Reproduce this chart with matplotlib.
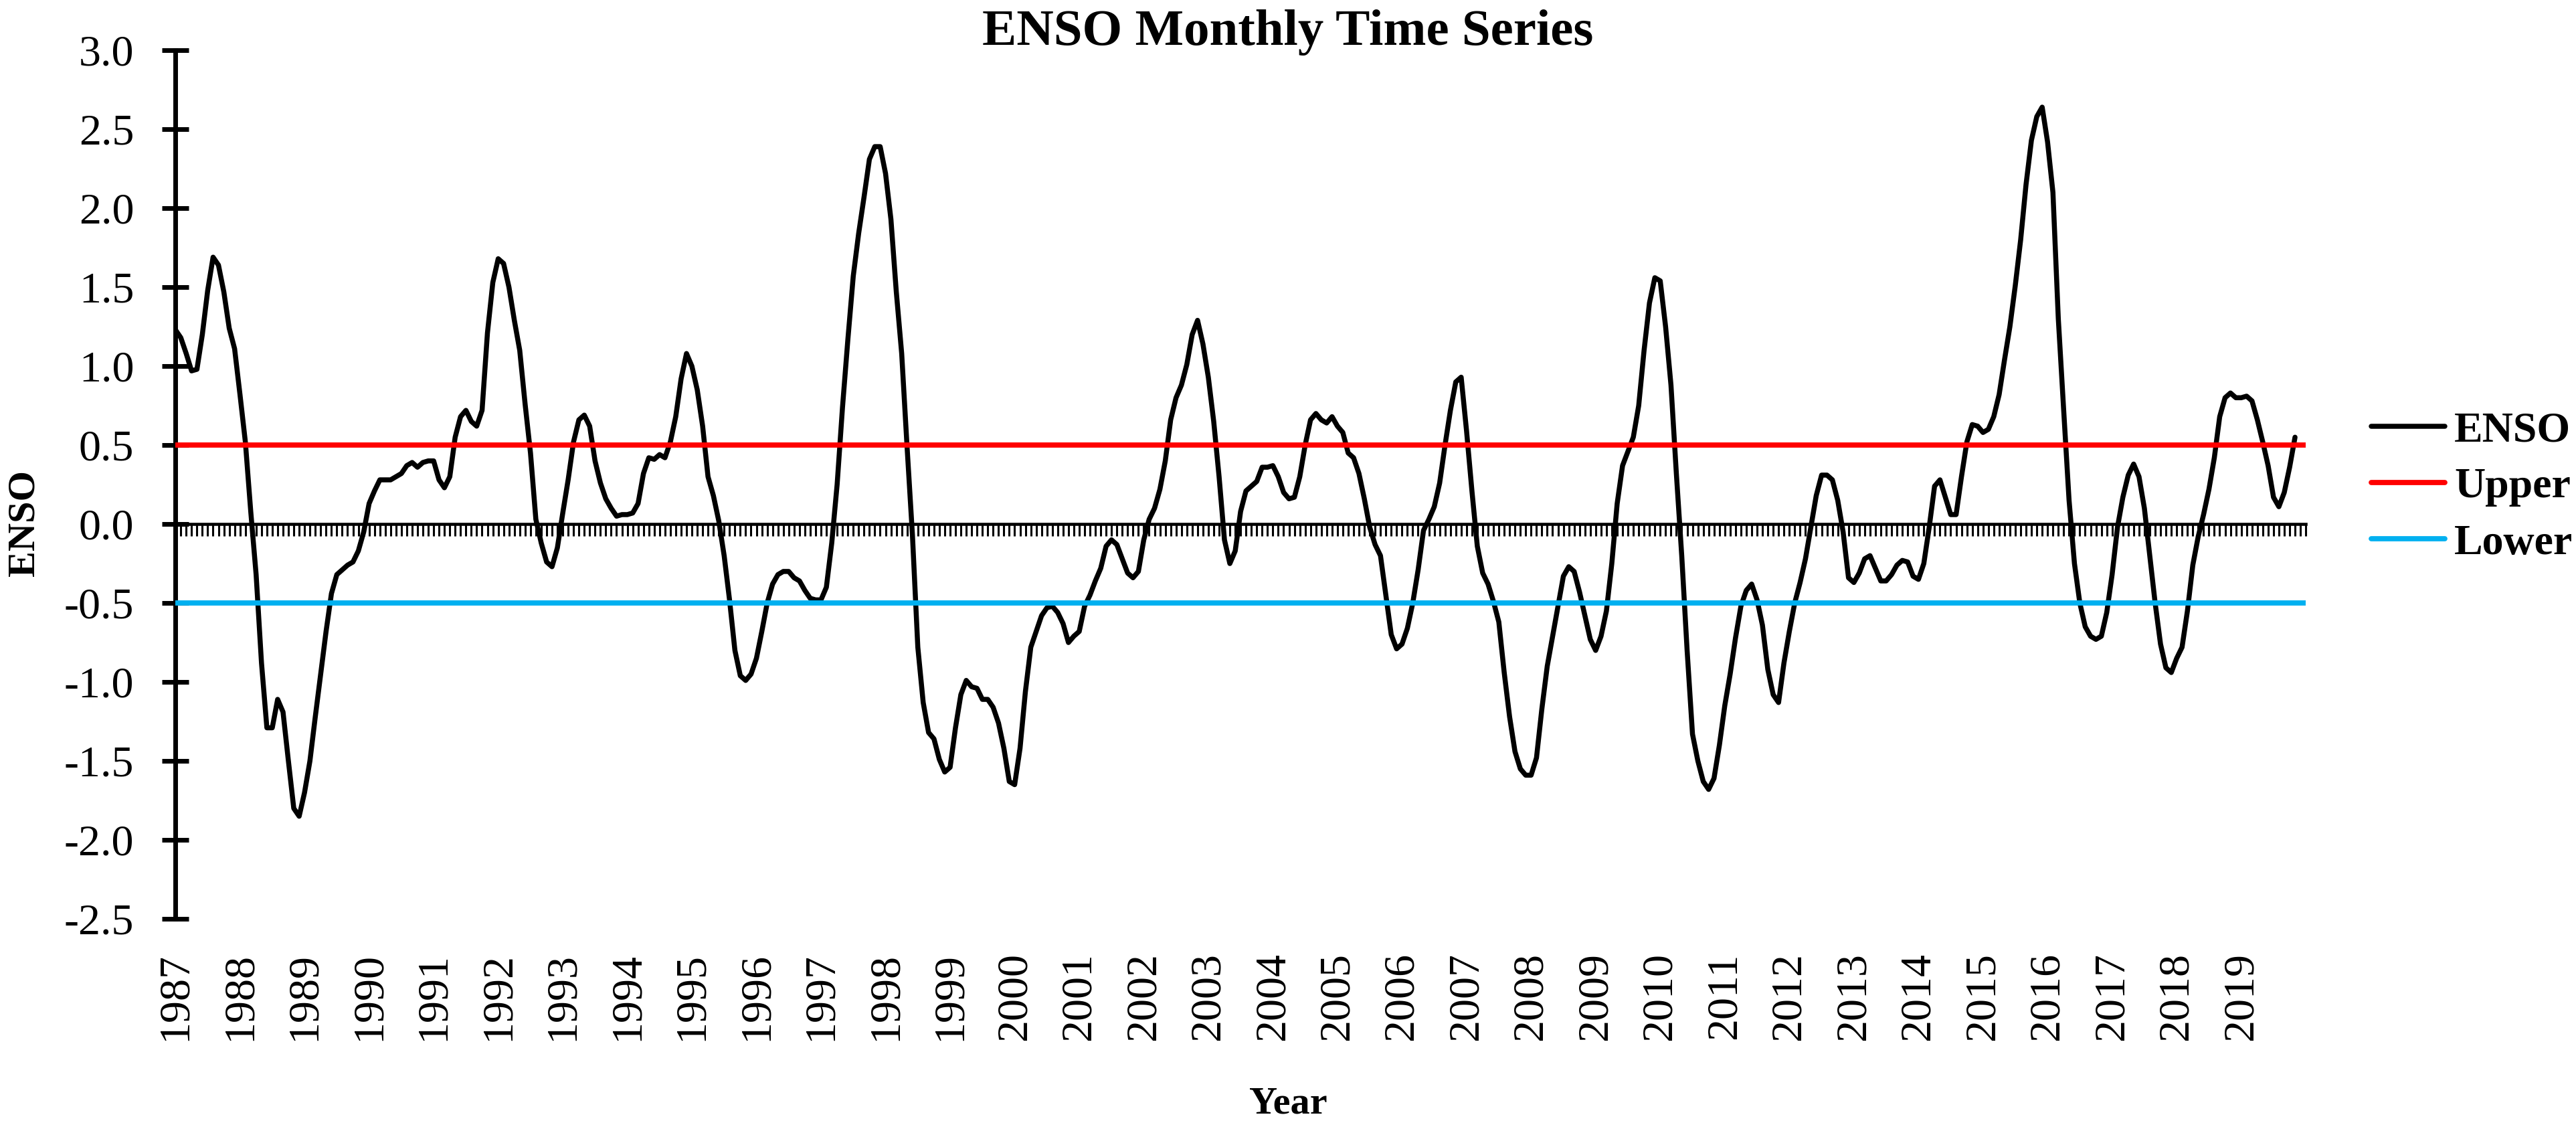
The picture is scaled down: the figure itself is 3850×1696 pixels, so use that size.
import matplotlib.pyplot as plt
import numpy as np

plt.rcParams['font.family'] = ['Liberation Serif', 'DejaVu Serif']

# monthly ENSO values (Jan 1987 .. Nov 2019)
enso_1987 = [1.23, 1.18, 1.08, 0.97, 0.98, 1.20, 1.48, 1.69, 1.64, 1.47, 1.24, 1.11]
enso_1988 = [0.82, 0.52, 0.08, -0.32, -0.88, -1.29, -1.29, -1.11, -1.19, -1.50, -1.80, -1.85]
enso_1989 = [-1.70, -1.50, -1.22, -0.95, -0.68, -0.44, -0.32, -0.29, -0.26, -0.24, -0.17, -0.05]
enso_1990 = [0.13, 0.21, 0.28, 0.28, 0.28, 0.30, 0.32, 0.37, 0.39, 0.36, 0.39, 0.40]
enso_1991 = [0.40, 0.28, 0.23, 0.30, 0.55, 0.68, 0.72, 0.65, 0.62, 0.72, 1.21, 1.53]
enso_1992 = [1.68, 1.65, 1.50, 1.29, 1.10, 0.76, 0.45, 0.03, -0.12, -0.24, -0.27, -0.15]
enso_1993 = [0.07, 0.28, 0.52, 0.66, 0.69, 0.62, 0.40, 0.26, 0.16, 0.10, 0.05, 0.06]
enso_1994 = [0.06, 0.07, 0.13, 0.32, 0.42, 0.41, 0.44, 0.42, 0.52, 0.68, 0.92, 1.08]
enso_1995 = [1.00, 0.85, 0.62, 0.30, 0.18, 0.02, -0.20, -0.48, -0.80, -0.96, -0.99, -0.95]
enso_1996 = [-0.85, -0.68, -0.50, -0.38, -0.32, -0.30, -0.30, -0.34, -0.36, -0.42, -0.47, -0.48]
enso_1997 = [-0.48, -0.40, -0.12, 0.25, 0.74, 1.17, 1.57, 1.84, 2.07, 2.31, 2.39, 2.39]
enso_1998 = [2.22, 1.93, 1.47, 1.08, 0.49, -0.07, -0.78, -1.13, -1.32, -1.36, -1.49, -1.57]
enso_1999 = [-1.54, -1.29, -1.08, -0.99, -1.03, -1.04, -1.11, -1.11, -1.16, -1.26, -1.42, -1.63]
enso_2000 = [-1.65, -1.42, -1.06, -0.78, -0.68, -0.58, -0.53, -0.52, -0.56, -0.63, -0.75, -0.71]
enso_2001 = [-0.68, -0.52, -0.45, -0.36, -0.28, -0.14, -0.10, -0.13, -0.22, -0.31, -0.34, -0.30]
enso_2002 = [-0.10, 0.03, 0.10, 0.22, 0.40, 0.66, 0.80, 0.88, 1.01, 1.20, 1.29, 1.14]
enso_2003 = [0.93, 0.65, 0.30, -0.10, -0.25, -0.17, 0.08, 0.21, 0.24, 0.27, 0.36, 0.36]
enso_2004 = [0.37, 0.30, 0.20, 0.16, 0.17, 0.30, 0.50, 0.66, 0.70, 0.66, 0.64, 0.68]
enso_2005 = [0.62, 0.58, 0.45, 0.42, 0.32, 0.16, -0.02, -0.13, -0.20, -0.45, -0.70, -0.79]
enso_2006 = [-0.76, -0.66, -0.50, -0.29, -0.04, 0.03, 0.11, 0.26, 0.50, 0.72, 0.90, 0.93]
enso_2007 = [0.59, 0.21, -0.14, -0.31, -0.38, -0.49, -0.62, -0.94, -1.22, -1.44, -1.55, -1.59]
enso_2008 = [-1.59, -1.48, -1.17, -0.90, -0.71, -0.52, -0.33, -0.27, -0.30, -0.43, -0.58, -0.73]
enso_2009 = [-0.80, -0.71, -0.55, -0.25, 0.13, 0.37, 0.46, 0.55, 0.75, 1.10, 1.40, 1.56]
enso_2010 = [1.54, 1.25, 0.88, 0.32, -0.20, -0.80, -1.33, -1.50, -1.63, -1.68, -1.61, -1.40]
enso_2011 = [-1.15, -0.95, -0.72, -0.52, -0.42, -0.38, -0.48, -0.64, -0.92, -1.08, -1.13, -0.88]
enso_2012 = [-0.68, -0.50, -0.37, -0.22, -0.02, 0.18, 0.31, 0.31, 0.28, 0.15, -0.05, -0.34]
enso_2013 = [-0.37, -0.31, -0.22, -0.20, -0.28, -0.36, -0.36, -0.32, -0.26, -0.23, -0.24, -0.33]
enso_2014 = [-0.35, -0.25, -0.02, 0.24, 0.28, 0.17, 0.06, 0.06, 0.30, 0.52, 0.63, 0.62]
enso_2015 = [0.58, 0.60, 0.68, 0.82, 1.04, 1.25, 1.51, 1.80, 2.15, 2.43, 2.58, 2.64]
enso_2016 = [2.42, 2.10, 1.30, 0.72, 0.15, -0.25, -0.50, -0.65, -0.71, -0.73, -0.71, -0.56]
enso_2017 = [-0.32, -0.02, 0.17, 0.31, 0.38, 0.30, 0.10, -0.20, -0.50, -0.76, -0.91, -0.94]
enso_2018 = [-0.85, -0.78, -0.55, -0.26, -0.08, 0.06, 0.22, 0.42, 0.68, 0.80, 0.83, 0.80]
enso_2019 = [0.80, 0.81, 0.78, 0.66, 0.52, 0.37, 0.17, 0.11, 0.20, 0.36, 0.55]

enso = np.array(enso_1987 + enso_1988 + enso_1989 + enso_1990 + enso_1991 + enso_1992
                + enso_1993 + enso_1994 + enso_1995 + enso_1996 + enso_1997 + enso_1998
                + enso_1999 + enso_2000 + enso_2001 + enso_2002 + enso_2003 + enso_2004
                + enso_2005 + enso_2006 + enso_2007 + enso_2008 + enso_2009 + enso_2010
                + enso_2011 + enso_2012 + enso_2013 + enso_2014 + enso_2015 + enso_2016
                + enso_2017 + enso_2018 + enso_2019)

years = list(range(1987, 2020))
upper_level = 0.5
lower_level = -0.5
n_categories = 397  # threshold series run a little past the last ENSO month

months = np.arange(len(enso))
cats = np.arange(n_categories)

fig = plt.figure(figsize=(38.5, 16.96), dpi=100)
ax = fig.add_axes([0.0681, 0.1904, 0.8270, 0.7653])

ax.plot(months, enso, color='black', lw=5.4, solid_joinstyle='round',
        solid_capstyle='round', zorder=3, label='ENSO')
ax.plot(cats, np.full(n_categories, upper_level), color='#FF0000', lw=5.6,
        solid_capstyle='round', zorder=4, label='Upper')
ax.plot(cats, np.full(n_categories, lower_level), color='#00B0F0', lw=5.6,
        solid_capstyle='round', zorder=4, label='Lower')

ax.set_xlim(0, n_categories - 1)
ax.set_ylim(-2.5, 3.0)

yt = np.arange(-2.5, 3.01, 0.5)
ax.set_yticks(yt, labels=['%.1f' % v for v in yt])
ax.tick_params(axis='y', direction='inout', length=29, width=5, pad=30,
               labelsize=47.5)
ax.set_xticks(np.arange(0, 12 * len(years), 12), labels=[str(y) for y in years],
              rotation=90)
ax.tick_params(axis='x', length=0, pad=36, labelsize=47.5)

for s in ['top', 'right', 'bottom']:
    ax.spines[s].set_visible(False)
ax.spines['left'].set_linewidth(5)

# horizontal axis crossing at zero, one tick per month
zero_axis = ax.secondary_xaxis(2.5 / 5.5)
zero_axis.set_xticks(cats)
zero_axis.tick_params(axis='x', direction='out', length=13, width=2.2,
                      labelbottom=False, labeltop=False)
zero_axis.spines['bottom'].set_linewidth(3.3)

fig.text(0.5, 1 - 67 / 1696, 'ENSO Monthly Time Series', ha='center',
         va='baseline', fontsize=55.4, weight='bold')
fig.text(37 / 3850, 1 - 781 / 1696, 'ENSO', rotation=90, ha='center',
         va='center', fontsize=42, weight='bold')
fig.text(0.5, 1 - 1650 / 1696, 'Year', ha='center', va='center',
         fontsize=42, weight='bold')

fig.legend(loc='center left', bbox_to_anchor=(3544 / 3850, 1 - 728 / 1696),
           frameon=False, prop={'size': 46, 'weight': 'bold'},
           handlelength=1.72, handletextpad=0.22, labelspacing=0.4,
           borderpad=0, borderaxespad=0)

fig.savefig('out.png', dpi=100, facecolor='white')
